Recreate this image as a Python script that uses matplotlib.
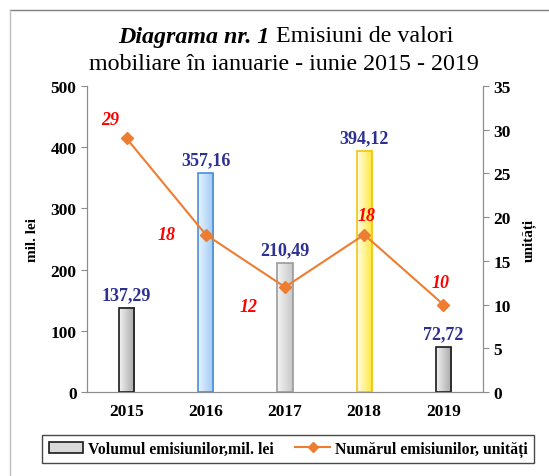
import numpy as np
import matplotlib
matplotlib.use("Agg")
import matplotlib.pyplot as plt
from matplotlib.colors import LinearSegmentedColormap
from matplotlib.patches import Patch
from matplotlib.lines import Line2D

years = ["2015", "2016", "2017", "2018", "2019"]
volume = [137.29, 357.16, 210.49, 394.12, 72.72]
volume_labels = ["137,29", "357,16", "210,49", "394,12", "72,72"]
count = [29, 18, 12, 18, 10]

# bar fill gradients (left -> right) and edge colours
bar_fills = [("#f2f2f2", "#a6a6a6"), ("#e8f3ff", "#9cc8f2"), ("#f4f4f4", "#c8c8c8"),
             ("#fffde6", "#ffe838"), ("#f2f2f2", "#a6a6a6")]
bar_edges = ["#1a1a1a", "#4a8fd6", "#9a9a9a", "#f0c419", "#1a1a1a"]

plt.rcParams["font.family"] = ["Liberation Serif", "DejaVu Serif"]

fig = plt.figure(figsize=(5.49, 4.77), dpi=100)
ax = fig.add_axes([87 / 549, 1 - 393 / 477, 396 / 549, 306 / 477])
ax2 = ax.twinx()

x = np.arange(len(years))
w = 0.19
bars = ax.bar(x, volume, width=w, color="none", edgecolor=bar_edges, linewidth=1.2, zorder=3)
grad = np.linspace(0, 1, 64).reshape(1, -1)
for b, (c0, c1) in zip(bars, bar_fills):
    cmap = LinearSegmentedColormap.from_list("g", [c0, c1])
    ax.imshow(grad, extent=[b.get_x(), b.get_x() + b.get_width(), 0, b.get_height()],
              aspect="auto", cmap=cmap, zorder=2)

for xi, v, lab in zip(x, volume, volume_labels):
    ax.text(xi, v + 8, lab, ha="center", va="bottom", color="#2e3192",
            fontsize=13, fontweight="bold")

ax.set_xlim(-0.5, 4.5)
ax.set_ylim(0, 500)
ax.set_yticks(range(0, 501, 100))
ax.set_xticks(x)
ax.set_xticklabels(years)
ax.set_ylabel("mil. lei", fontsize=11, fontweight="bold", labelpad=8)

ax2.plot(x, count, color="#ed7d31", linewidth=1.5, marker="D", markersize=6,
         markerfacecolor="#ed7d31", markeredgecolor="#ed7d31", zorder=4)
ax2.set_ylim(0, 35)
ax2.set_yticks(range(0, 36, 5))
ax2.set_ylabel("unități", fontsize=11, fontweight="bold", labelpad=8)

offsets = [(-12, 14), (-28, 0), (-26, -14), (2, 14), (-2, 16)]
for xi, c, (dx, dy) in zip(x, count, offsets):
    ax2.annotate(str(c), (xi, c), xytext=(dx, dy), textcoords="offset points",
                 ha="center", va="center", color="#ff0000", fontsize=13,
                 fontweight="bold", fontstyle="italic")

for a in (ax, ax2):
    a.patch.set_visible(False)
    a.spines["top"].set_visible(False)
    for s in a.spines.values():
        s.set_color("#8c8c8c")
    a.tick_params(axis="y", direction="out", length=4, color="#8c8c8c",
                  labelsize=12.5)
    a.tick_params(axis="x", length=0, labelsize=12.5, pad=8)
    for t in a.get_yticklabels() + a.get_xticklabels():
        t.set_fontweight("bold")
ax2.set_zorder(ax.get_zorder() + 1)

# title with mixed styles
fig.canvas.draw()
r = fig.canvas.get_renderer()
t1 = fig.text(0, 1 - 37 / 477, "Diagrama nr. 1", fontsize=17.3, fontweight="bold",
              fontstyle="italic", va="center")
t2 = fig.text(0, 1 - 37 / 477, " Emisiuni de valori", fontsize=17.3, va="center")
w1 = t1.get_window_extent(r).width
w2 = t2.get_window_extent(r).width
x0 = 286 - (w1 + w2) / 2
t1.set_x(x0 / 549)
t2.set_x((x0 + w1) / 549)
fig.text(284 / 549, 1 - 64 / 477, "mobiliare în ianuarie - iunie 2015 - 2019",
         fontsize=17.3, ha="center", va="center")

handles = [Patch(facecolor="#d9d9d9", edgecolor="#1a1a1a", linewidth=1.2),
           Line2D([0], [0], color="#ed7d31", linewidth=1.5, marker="D", markersize=5)]
leg = fig.legend(handles, ["Volumul emisiunilor,mil. lei", "Numărul emisiunilor, unități"],
                 loc="center", bbox_to_anchor=(288 / 549, 1 - 450 / 477), ncol=2,
                 frameon=True, fancybox=False, edgecolor="#1a1a1a",
                 prop={"weight": "bold", "size": 11.3}, handlelength=2.2,
                 handletextpad=0.3, columnspacing=1.4, borderpad=0.4)
leg.get_frame().set_linewidth(1.0)

# outer frame lines (top and left)
fig.add_artist(Line2D([10 / 549, 1], [1 - 11 / 477] * 2, color="#7f7f7f", linewidth=1,
                      transform=fig.transFigure))
fig.add_artist(Line2D([10 / 549] * 2, [0, 1 - 11 / 477], color="#bfbfbf", linewidth=1,
                      transform=fig.transFigure))

fig.savefig("out.png", dpi=100)
